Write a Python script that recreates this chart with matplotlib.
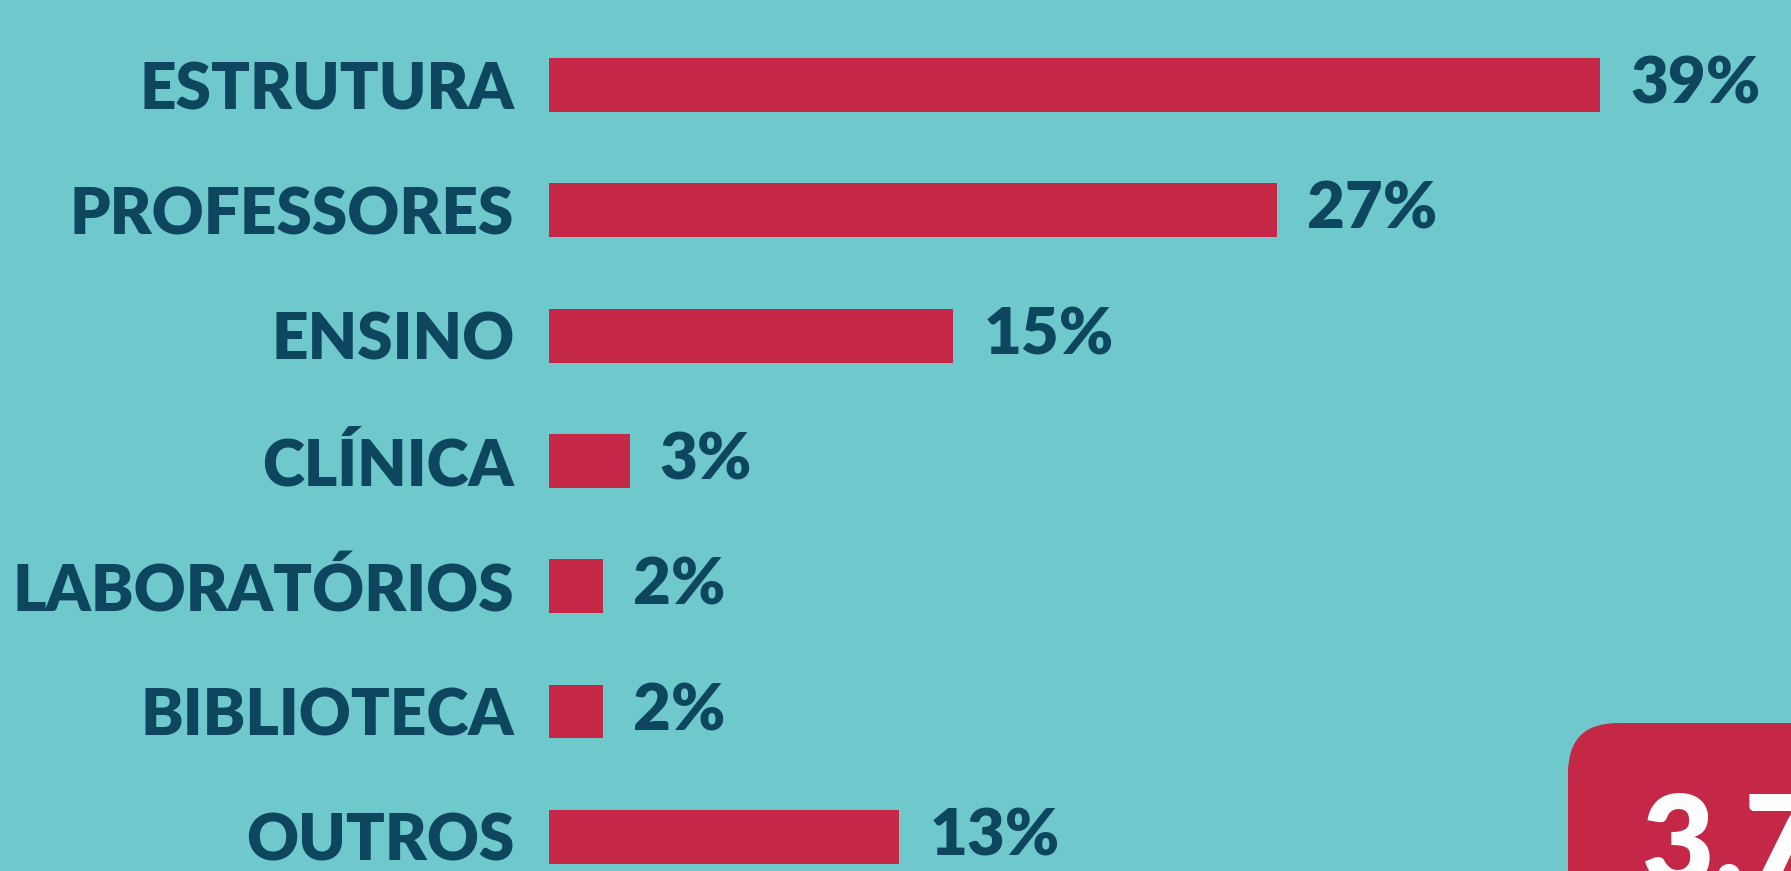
import numpy as np
import matplotlib
matplotlib.use('Agg')
import matplotlib.pyplot as plt
from matplotlib.patches import FancyBboxPatch
from matplotlib.transforms import IdentityTransform

# dados
categorias = ['ESTRUTURA', 'PROFESSORES', 'ENSINO', 'CLÍNICA', 'LABORATÓRIOS', 'BIBLIOTECA', 'OUTROS']
valores = [39, 27, 15, 3, 2, 2, 13]
rotulos = ['39%', '27%', '15%', '3%', '2%', '2%', '13%']
destaque = '3,7'

fundo = '#6ec8cc'
vermelho = '#c42846'
azul = '#0e465f'
fonte = 'Lato'
peso = 'heavy'

W, H, dpi = 1791, 871, 100
fig = plt.figure(figsize=(W / dpi, H / dpi), dpi=dpi, facecolor=fundo)

# eixo: x=0 em 549px, 1% = 26.95px; linhas a cada ~125px
px_por_pct = 26.95
topo, passo = 85, 125.3
ax = fig.add_axes([549 / W, 0, 1 - 549 / W, 1])
ax.set_facecolor(fundo)
y = np.arange(len(categorias))
ax.barh(y, valores, height=0.43, color=vermelho)
ax.set_xlim(0, (W - 549) / px_por_pct)
ax.set_ylim((H - topo) / passo, -topo / passo)

ax.set_yticks(y)
ax.set_yticklabels(categorias, fontsize=46, fontweight=peso, color=azul, family=fonte)
ax.tick_params(axis='y', length=0, pad=25)
ax.set_xticks([])
for s in ax.spines.values():
    s.set_visible(False)

for yi, v, r in zip(y, valores, rotulos):
    ax.text(v + 30 / px_por_pct, yi, r, va='center', ha='left', fontsize=47,
            fontweight=peso, color=azul, family=fonte)

# caixa vermelha no canto
caixa = FancyBboxPatch((1568, -200), 500, 871 - 723 + 200,
                       boxstyle='round,pad=0,rounding_size=50',
                       transform=IdentityTransform(), facecolor=vermelho,
                       edgecolor='none')
fig.patches.append(caixa)
fig.text(1642, -14, destaque, transform=IdentityTransform(), fontsize=90,
         fontweight=peso, color='white', family=fonte, va='baseline', ha='left')

fig.savefig('out.png', dpi=dpi, facecolor=fundo)
